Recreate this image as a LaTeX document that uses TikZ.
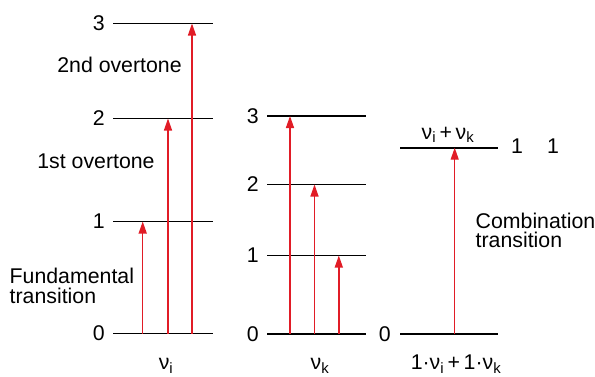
\documentclass[tikz,border=0pt]{standalone}
\usepackage{fontspec}
\setmainfont{Liberation Sans}
\usetikzlibrary{arrows.meta}
\definecolor{transred}{RGB}{225,28,38}
\tikzset{
  vlevel/.style={line width=1.6pt, black},
  trans/.style={line width=1.4pt, transred, -{Triangle[width=8pt,length=12pt]}},
  lab/.style={font=\fontsize{21.3}{19.5}\selectfont, inner sep=0pt}
}
\begin{document}
\begin{tikzpicture}[x=1pt,y=1pt]
            \useasboundingbox (0,0) rectangle (595,376);

            % levels of nu_i
            \foreach \n/\y in {0/42.5,1/154.5,2/257.5,3/352.5} {
                \coordinate (i\n l) at (113,\y);
                \coordinate (i\n r) at (213,\y);
                \draw[vlevel] (i\n l) -- (i\n r);
                \node[lab, left=8pt] (ilab\n) at (i\n l) {\n};
            }
            % levels of nu_k
            \foreach \n/\y in {0/42,1/120.5,2/191.5,3/260} {
                \coordinate (k\n l) at (267,\y);
                \coordinate (k\n r) at (366,\y);
                \draw[vlevel] (k\n l) -- (k\n r);
                \node[lab, left=8pt] (klab\n) at (k\n l) {\n};
            }
            % combination
            \coordinate (c0l) at (400,42);
            \coordinate (c0r) at (498,42);
            \coordinate (c1l) at (400,228.3);
            \coordinate (c1r) at (498,228.3);
            \draw[vlevel] (c0l) -- (c0r);
            \draw[vlevel] (c1l) -- (c1r);
            \node[lab, left=9pt] (clab0) at (c0l) {0};

            % transitions
            \coordinate (fi1) at (142.7,42.5);
            \coordinate (fi2) at (168,42.5);
            \coordinate (fi3) at (192,42.5);
            \draw[trans] (fi1) -- (fi1 |- i1l);
            \draw[trans] (fi2) -- (fi2 |- i2l);
            \draw[trans] (fi3) -- (fi3 |- i3l);

            \coordinate (fk3) at (290,42);
            \coordinate (fk2) at (314.5,42);
            \coordinate (fk1) at (338.8,42);
            \draw[trans] (fk3) -- (fk3 |- k3l);
            \draw[trans] (fk2) -- (fk2 |- k2l);
            \draw[trans] (fk1) -- (fk1 |- k1l);

            \coordinate (fc) at (454.7,42);
            \draw[trans] (fc) -- (fc |- c1l);

            % labels
            \node[lab] (over2) at (119.5,311) {2nd overtone};
            \node[lab] (over1) at (96,215) {1st overtone};
            \node[lab, align=left, anchor=west] (fund) at (9.5,90) {Fundamental\\transition};
            \node[lab, align=left, anchor=west] (comb) at (475.5,145.5) {Combination\\transition};

            \node[lab, anchor=base] (sumtop) at (448,236.7) {ν\textsubscript{i}\,+\,ν\textsubscript{k}};
            \node[lab] (qi) at (517,229.5) {1};
            \node[lab] (qk) at (553,229.5) {1};

            \node[lab, anchor=base] (nui) at (166,6.5) {ν\textsubscript{i}};
            \node[lab, anchor=base] (nuk) at (320,6.5) {ν\textsubscript{k}};
            \node[lab, anchor=base] (nuc) at (456,6.5) {1·ν\textsubscript{i}\,+\,1·ν\textsubscript{k}};
\end{tikzpicture}
\end{document}
